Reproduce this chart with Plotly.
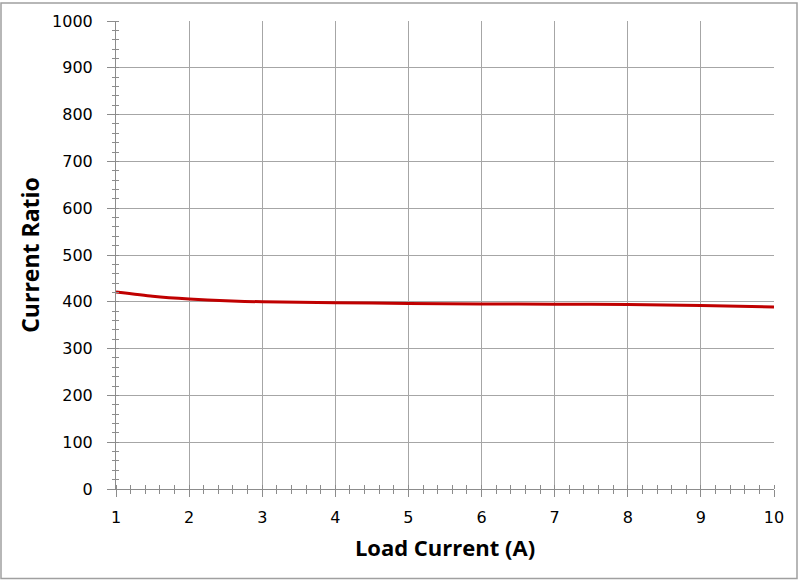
import plotly.graph_objects as go

load_current = [1, 1.5, 2, 2.5, 3, 4, 5, 6, 7, 8, 9, 10]
current_ratio = [421, 412, 406, 402, 400, 398, 396.5, 395.5, 395, 394, 392, 389]

x_ticks = list(range(1, 11))
y_ticks = list(range(0, 1001, 100))

GRID = "#A6A6A6"
AX = "#8C8C8C"
tickfont = dict(family="DejaVu Sans", size=16, color="#000000")

fig = go.Figure()
fig.add_trace(go.Scatter(
    x=load_current, y=current_ratio, mode="lines",
    line=dict(color="#C00000", width=3, shape="spline", smoothing=0.6),
    showlegend=False, hoverinfo="skip",
))
# invisible trace on overlay axes so that crossing minor ticks render
fig.add_trace(go.Scatter(x=[1, 10], y=[0, 1000], xaxis="x2", yaxis="y2",
                         mode="markers", marker=dict(opacity=0), showlegend=False,
                         hoverinfo="skip"))

fig.update_layout(
    width=800, height=582,
    margin=dict(l=116, r=26, t=19, b=93),
    paper_bgcolor="white", plot_bgcolor="white",
    xaxis=dict(
        range=[1, 10], tickvals=x_ticks, ticktext=[str(v) for v in x_ticks],
        showgrid=True, gridcolor=GRID, gridwidth=1,
        showline=True, linecolor=AX, linewidth=1,
        ticks="outside", ticklen=7, tickcolor=AX, tickwidth=1,
        ticklabelstandoff=7,
        minor=dict(dtick=0.2, ticks="outside", ticklen=4, tickcolor=AX, showgrid=False),
        tickfont=tickfont, zeroline=False,
        title=dict(text="Load Current (A)", standoff=14,
                   font=dict(family="Open Sans", size=22, color="#000000", weight="bold")),
    ),
    yaxis=dict(
        range=[0, 1000], tickvals=y_ticks, ticktext=[str(v) for v in y_ticks],
        showgrid=True, gridcolor=GRID, gridwidth=1,
        showline=True, linecolor=AX, linewidth=1,
        ticks="outside", ticklen=8, tickcolor=AX, tickwidth=1,
        ticklabelstandoff=11,
        minor=dict(dtick=20, ticks="outside", ticklen=3, tickcolor=AX, showgrid=False),
        tickfont=tickfont, zeroline=False,
        title=dict(text="Current Ratio", standoff=6,
                   font=dict(family="Open Sans", size=23, color="#000000", weight="bold")),
    ),
    xaxis2=dict(overlaying="x", range=[1, 10], side="bottom", anchor="y",
                showgrid=False, showticklabels=False, zeroline=False, tickvals=[],
                minor=dict(dtick=0.2, ticks="inside", ticklen=4, tickcolor=AX, showgrid=False)),
    yaxis2=dict(overlaying="y", range=[0, 1000], side="left", anchor="x",
                showgrid=False, showticklabels=False, zeroline=False, tickvals=[],
                minor=dict(dtick=20, ticks="inside", ticklen=3, tickcolor=AX, showgrid=False)),
    shapes=[dict(type="rect", xref="paper", yref="paper",
                 x0=-115/658, x1=(797-116)/658, y0=-(579-489)/470, y1=(489-1)/470,
                 line=dict(color="#A0A0A0", width=1.5), fillcolor="rgba(0,0,0,0)", layer="below")],
)

fig.write_html("out.html", config={"displayModeBar": False},
               post_script="document.body.style.margin='0';document.body.style.overflow='hidden';")
